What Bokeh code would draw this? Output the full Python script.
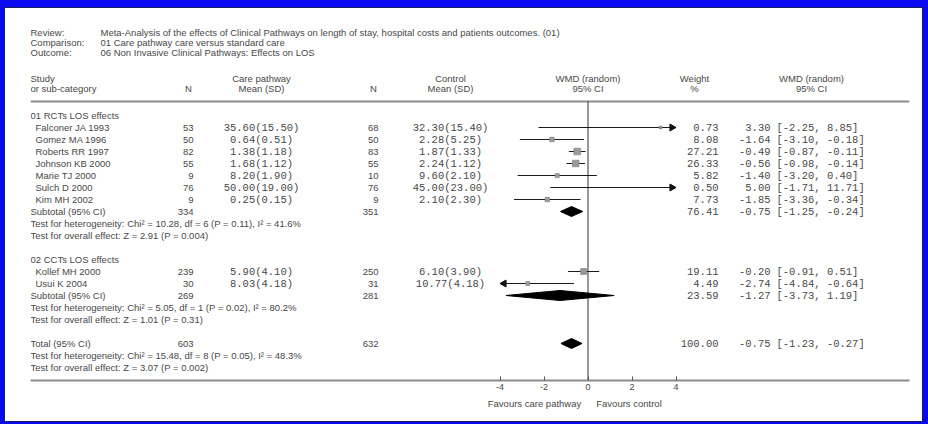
import math
from bokeh.plotting import figure
from bokeh.models import Range1d, LinearAxis, FixedTicker, ColumnDataSource
from bokeh.core.properties import value
from bokeh.embed import file_html
from bokeh.resources import INLINE

# ---------------- data ----------------
header_keys = ["Review:", "Comparison:", "Outcome:"]
header_vals = [
    "Meta-Analysis of the effects of Clinical Pathways on length of stay, hospital costs and patients outcomes. (01)",
    "01 Care pathway care versus standard care",
    "06 Non Invasive Clinical Pathways: Effects on LOS",
]

group_names = ["01 RCTs LOS effects", "02 CCTs LOS effects"]
study_group = [0, 0, 0, 0, 0, 0, 0, 1, 1]
study_names = ["Falconer JA 1993", "Gomez MA 1996", "Roberts RR 1997", "Johnson KB 2000",
               "Marie TJ 2000", "Sulch D 2000", "Kim MH 2002", "Kollef MH 2000", "Usui K 2004"]
care_n = [53, 50, 82, 55, 9, 76, 9, 239, 30]
care_mean = [35.60, 0.64, 1.38, 1.68, 8.20, 50.00, 0.25, 5.90, 8.03]
care_sd = [15.50, 0.51, 1.18, 1.12, 1.90, 19.00, 0.15, 4.10, 4.18]
ctrl_n = [68, 50, 83, 55, 10, 76, 9, 250, 31]
ctrl_mean = [32.30, 2.28, 1.87, 2.24, 9.60, 45.00, 2.10, 6.10, 10.77]
ctrl_sd = [15.40, 5.25, 1.33, 1.12, 2.10, 23.00, 2.30, 3.90, 4.18]
weights = [0.73, 8.08, 27.21, 26.33, 5.82, 0.50, 7.73, 19.11, 4.49]
wmd = [3.30, -1.64, -0.49, -0.56, -1.40, 5.00, -1.85, -0.20, -2.74]
ci_lo = [-2.25, -3.10, -0.87, -0.98, -3.20, -1.71, -3.36, -0.91, -4.84]
ci_hi = [8.85, -0.18, -0.11, -0.14, 0.40, 11.71, -0.34, 0.51, -0.64]

sub_care_n = [334, 269]
sub_ctrl_n = [351, 281]
sub_weight = [76.41, 23.59]
sub_wmd = [-0.75, -1.27]
sub_lo = [-1.25, -3.73]
sub_hi = [-0.24, 1.19]
sub_het = ["Test for heterogeneity: Chi\u00b2 = 10.28, df = 6 (P = 0.11), I\u00b2 = 41.6%",
           "Test for heterogeneity: Chi\u00b2 = 5.05, df = 1 (P = 0.02), I\u00b2 = 80.2%"]
sub_effect = ["Test for overall effect: Z = 2.91 (P = 0.004)",
              "Test for overall effect: Z = 1.01 (P = 0.31)"]

total_label = "Total (95% CI)"
total_care_n = 603
total_ctrl_n = 632
total_weight = 100.00
total_wmd = -0.75
total_lo = -1.23
total_hi = -0.27
total_het = "Test for heterogeneity: Chi\u00b2 = 15.48, df = 8 (P = 0.05), I\u00b2 = 48.3%"
total_effect = "Test for overall effect: Z = 3.07 (P = 0.002)"

axis_ticks = [-4, -2, 0, 2, 4]
axis_limit = 4
favours = ["Favours care pathway", "Favours control"]

# ---------------- layout (styles / positions, page pixels) ----------------
PAD_T, PAD_R, PAD_B, PAD_L = 8, 6, 3, 5          # blue frame widths
W, H = 928 - PAD_L - PAD_R, 424 - PAD_T - PAD_B
X0, X1 = 30, 909          # extent of the table (page px)
YTOP, YAX = PAD_T, 380
RULE_Y = 101
ROW0, STEP = 115, 12
ZERO_X, UNIT = 587.5, 22.0
SANS = "Liberation Sans"
MONO = "Liberation Mono"
TXT = "#484848"
FS = "9.5px"
MFS = "10.5px"
HEAD = 7
BLUE = "#0a0af2"

C_LBL, C_IND = 30, 35
C_CN, C_CM = 193, 261
C_KN, C_KM = 378, 450
C_W, C_E, C_B = 718, 770, 776
C_WH, C_CIH = 694, 811
FAV_CENTERS_PX = [534.0, 628.5]


def row_y(r):
    return ROW0 + STEP * r


def buf():
    return dict(x=[], y=[], text=[])


s_left, s_right, s_center = buf(), buf(), buf()
m_center, m_right, m_left = buf(), buf(), buf()


def put(b, x, y, t):
    b["x"].append(x)
    b["y"].append(y)
    b["text"].append(t)


for i, (k, v) in enumerate(zip(header_keys, header_vals)):
    put(s_left, C_LBL, 32 + 10 * i, k)
    put(s_left, 100, 32 + 10 * i, v)

HY1, HY2 = 78, 88
put(s_left, C_LBL, HY1, "Study")
put(s_left, C_LBL, HY2, "or sub-category")
put(s_center, C_CN - 5, HY2, "N")
put(s_center, C_CM, HY1, "Care pathway")
put(s_center, C_CM, HY2, "Mean (SD)")
put(s_center, C_KN - 5, HY2, "N")
put(s_center, C_KM, HY1, "Control")
put(s_center, C_KM, HY2, "Mean (SD)")
put(s_center, ZERO_X, HY1, "WMD (random)")
put(s_center, ZERO_X, HY2, "95% CI")
put(s_center, C_WH, HY1, "Weight")
put(s_center, C_WH, HY2, "%")
put(s_center, C_CIH, HY1, "WMD (random)")
put(s_center, C_CIH, HY2, "95% CI")

seg = dict(x0=[], x1=[], y=[])
heads = dict(x=[], y=[], angle=[])
sq = dict(x=[], y=[], size=[])
dia = dict(xs=[], ys=[])
DH = 5
head_back = (HEAD / 2) * math.sqrt(3) * 2 / 3 / UNIT


def summary_row(y, cn, kn, w, e, lo, hi):
    put(s_right, C_CN, y, str(cn))
    put(s_right, C_KN, y, str(kn))
    put(m_right, C_W, y, f"{w:.2f}")
    put(m_right, C_E, y, f"{e:.2f}")
    put(m_left, C_B, y, f"[{lo:.2f}, {hi:.2f}]")
    dia["xs"].append([lo, e, hi, e])
    dia["ys"].append([y, y - DH, y, y + DH])


r = 0
for g, gname in enumerate(group_names):
    put(s_left, C_LBL, row_y(r), gname)
    r += 1
    for i in range(len(study_names)):
        if study_group[i] != g:
            continue
        y = row_y(r)
        put(s_left, C_IND, y, study_names[i])
        put(s_right, C_CN, y, str(care_n[i]))
        put(m_center, C_CM, y, f"{care_mean[i]:.2f}({care_sd[i]:.2f})")
        put(s_right, C_KN, y, str(ctrl_n[i]))
        put(m_center, C_KM, y, f"{ctrl_mean[i]:.2f}({ctrl_sd[i]:.2f})")
        put(m_right, C_W, y, f"{weights[i]:.2f}")
        put(m_right, C_E, y, f"{wmd[i]:.2f}")
        put(m_left, C_B, y, f"[{ci_lo[i]:.2f}, {ci_hi[i]:.2f}]")
        lo = max(ci_lo[i], -axis_limit)
        hi = min(ci_hi[i], axis_limit)
        seg["x0"].append(lo); seg["x1"].append(hi); seg["y"].append(y)
        if ci_hi[i] > axis_limit:
            heads["x"].append(axis_limit - head_back); heads["y"].append(y)
            heads["angle"].append(-math.pi / 2)
        if ci_lo[i] < -axis_limit:
            heads["x"].append(-axis_limit + head_back); heads["y"].append(y)
            heads["angle"].append(math.pi / 2)
        if -axis_limit <= wmd[i] <= axis_limit:
            sq["x"].append(wmd[i]); sq["y"].append(y)
            sq["size"].append(2.0 + 0.9 * weights[i] ** 0.5)
        r += 1
    y = row_y(r)
    put(s_left, C_LBL, y, "Subtotal (95% CI)")
    summary_row(y, sub_care_n[g], sub_ctrl_n[g], sub_weight[g], sub_wmd[g], sub_lo[g], sub_hi[g])
    r += 1
    put(s_left, C_LBL, row_y(r), sub_het[g]); r += 1
    put(s_left, C_LBL, row_y(r), sub_effect[g]); r += 1
    r += 1

y = row_y(r)
put(s_left, C_LBL, y, total_label)
summary_row(y, total_care_n, total_ctrl_n, total_weight, total_wmd, total_lo, total_hi)
put(s_left, C_LBL, row_y(r + 1), total_het)
put(s_left, C_LBL, row_y(r + 2), total_effect)

# ---------------- figure ----------------
p = figure(width=W, height=H, x_range=Range1d(X0, X1), y_range=Range1d(YAX, YTOP),
           output_backend="svg", toolbar_location=None,
           x_axis_type=None, y_axis_type=None,
           min_border_left=X0 - PAD_L, min_border_right=(PAD_L + W) - X1,
           min_border_top=0, min_border_bottom=(PAD_T + H) - YAX)
p.grid.visible = False
p.outline_line_color = None
p.background_fill_color = "white"
p.border_fill_color = "white"
p.extra_x_ranges = {"wmd": Range1d(start=(X0 - ZERO_X) / UNIT, end=(X1 - ZERO_X) / UNIT)}

# rules
p.segment(x0=[X0], x1=[X1], y0=[RULE_Y], y1=[RULE_Y], line_color="#8c8c8c", line_width=2)
p.segment(x0=[0], x1=[0], y0=[RULE_Y], y1=[YAX], x_range_name="wmd",
          line_color="#333333", line_width=1)

# CI lines, arrow heads, squares, diamonds
p.segment(x0="x0", x1="x1", y0="y", y1="y", source=ColumnDataSource(seg),
          x_range_name="wmd", line_color="#1a1a1a", line_width=1)
p.scatter(x="x", y="y", angle="angle", source=ColumnDataSource(heads), marker="triangle",
          size=HEAD, x_range_name="wmd", fill_color="#111111", line_color="#111111")
p.scatter(x="x", y="y", size="size", source=ColumnDataSource(sq), marker="square",
          x_range_name="wmd", fill_color="#9a9a9a", line_color="#808080", line_width=0.6)
p.patches(xs="xs", ys="ys", source=ColumnDataSource(dia), x_range_name="wmd",
          fill_color="#000000", line_color="#000000")

# texts
for b, font, size, align in [(s_left, SANS, FS, "left"), (s_right, SANS, FS, "right"),
                             (s_center, SANS, FS, "center"), (m_center, MONO, MFS, "center"),
                             (m_right, MONO, MFS, "right"), (m_left, MONO, MFS, "left")]:
    p.text(x="x", y="y", text="text", source=ColumnDataSource(b),
           text_font=value(font), text_font_size=value(size), text_color=TXT,
           text_align=align, text_baseline="middle")

# effect axis
ax = LinearAxis(x_range_name="wmd", ticker=FixedTicker(ticks=axis_ticks),
                major_label_overrides={t: str(t) for t in axis_ticks},
                axis_line_color="#8c8c8c", axis_line_width=2,
                major_tick_in=4, major_tick_out=0, major_tick_line_color="#555555",
                minor_tick_line_color=None,
                major_label_text_font=SANS, major_label_text_font_size="9px",
                major_label_text_color=TXT, major_label_standoff=3)
p.add_layout(ax, "below")

# "Favours ..." captions as a second, line-less axis on the same effect scale
fav_ticks = [round((c - ZERO_X) / UNIT, 3) for c in FAV_CENTERS_PX]
ax2 = LinearAxis(x_range_name="wmd", ticker=FixedTicker(ticks=fav_ticks),
                 major_label_overrides={t: lab for t, lab in zip(fav_ticks, favours)},
                 axis_line_color=None, major_tick_line_color=None, minor_tick_line_color=None,
                 major_tick_in=0, major_tick_out=0,
                 major_label_text_font=SANS, major_label_text_font_size="9.5px",
                 major_label_text_color=TXT, major_label_standoff=5)
p.add_layout(ax2, "below")

html = file_html(p, INLINE, title="Forest plot")
css = ("<style>"
       f"html {{ background-color: {BLUE} !important; }} "
       f"body {{ margin: {PAD_T - 1}px {PAD_R - 1}px {PAD_B - 1}px {PAD_L - 1}px !important; "
       "padding: 0 !important; border: 1px solid #1c1c5a !important; "
       "background-color: #ffffff !important; box-sizing: border-box !important; "
       f"height: {424 - PAD_T - PAD_B + 2}px !important; overflow: hidden; }}"
       "</style>")
html = html.replace("</head>", css + "</head>", 1)
open("out.html", "w").write(html)
